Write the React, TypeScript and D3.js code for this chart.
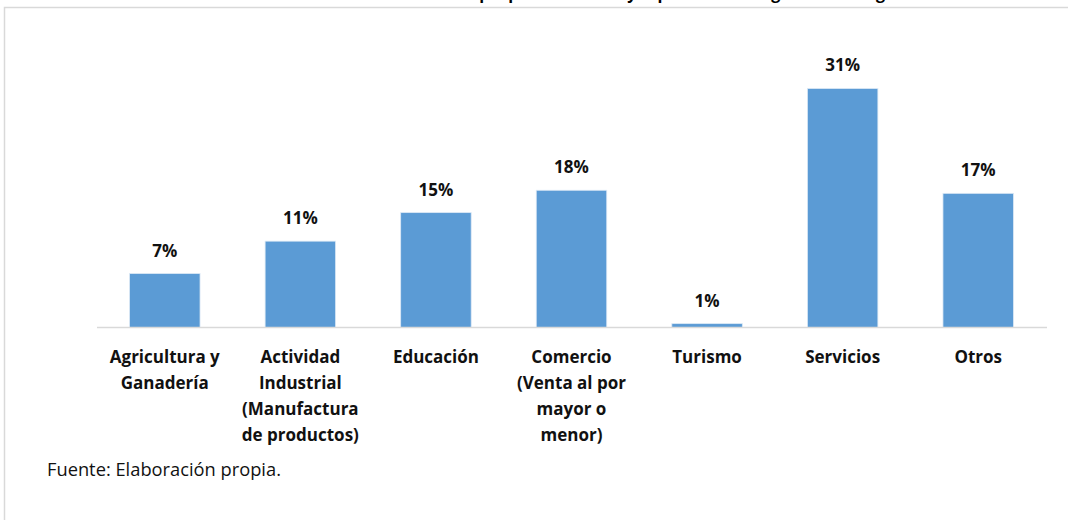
import React, { useEffect, useRef } from 'react';
import * as d3 from 'd3';

const categories = [
  ['Agricultura y', 'Ganadería'],
  ['Actividad', 'Industrial', '(Manufactura', 'de productos)'],
  ['Educación'],
  ['Comercio', '(Venta al por', 'mayor o', 'menor)'],
  ['Turismo'],
  ['Servicios'],
  ['Otros'],
];
const values = [7.0, 11.2, 14.9, 17.8, 0.5, 31.0, 17.4];
const title = 'Gráfico 5. Actividad económica de la que proviene la mayor parte de los ingresos del hogar';
const source = 'Fuente: Elaboración propia.';

const W = 1068;
const H = 520;
const FONT = '"Open Sans", Lato, sans-serif';

const App: React.FC = () => {
  const svgRef = useRef<SVGSVGElement>(null);

  useEffect(() => {
    if (!svgRef.current) return;
    const svg = d3.select(svgRef.current);
    svg.selectAll('*').remove();

    // outer frame (right and bottom edges fall outside the window)
    svg.append('rect')
      .attr('x', 4.5).attr('y', 7.5)
      .attr('width', W + 20).attr('height', H + 20)
      .attr('fill', 'white')
      .attr('stroke', '#d9d9d9')
      .attr('stroke-width', 1.5);

    // title sits above the frame and is clipped by the page edge, as in the source
    svg.append('text')
      .attr('x', 542).attr('y', -1)
      .attr('text-anchor', 'middle')
      .attr('font-family', FONT)
      .attr('font-weight', 700)
      .attr('font-size', 16)
      .text(title);

    const baseY = 327.5;
    const idx = categories.map((_, i) => String(i));
    const x = d3.scaleBand().domain(idx).range([97, 1046]).paddingInner(0.48).paddingOuter(0.24);
    const y = d3.scaleLinear().domain([0, 35]).range([baseY, baseY - 35 * 7.71]);

    const g = svg.append('g');

    g.selectAll('rect.bar')
      .data(values)
      .join('rect')
      .attr('class', 'bar')
      .attr('x', (_, i) => x(String(i)) as number)
      .attr('y', d => y(d))
      .attr('width', x.bandwidth())
      .attr('height', d => baseY - y(d))
      .attr('fill', '#5b9bd5')
      .attr('stroke', '#dce9f5')
      .attr('stroke-width', 0.8);

    g.append('line')
      .attr('x1', 97).attr('x2', 1047)
      .attr('y1', baseY).attr('y2', baseY)
      .attr('stroke', '#d9d9d9')
      .attr('stroke-width', 1.5);

    g.selectAll('text.val')
      .data(values)
      .join('text')
      .attr('class', 'val')
      .attr('x', (_, i) => (x(String(i)) as number) + x.bandwidth() / 2)
      .attr('y', d => y(d) - 17)
      .attr('text-anchor', 'middle')
      .attr('font-family', FONT)
      .attr('font-weight', 700)
      .attr('font-size', 17)
      .attr('fill', '#111')
      .text(d => `${Math.round(d)}%`);

    const labels = g.selectAll('text.cat')
      .data(categories)
      .join('text')
      .attr('class', 'cat')
      .attr('x', (_, i) => (x(String(i)) as number) + x.bandwidth() / 2)
      .attr('y', 363)
      .attr('text-anchor', 'middle')
      .attr('font-family', FONT)
      .attr('font-weight', 700)
      .attr('font-size', 17)
      .attr('fill', '#111');

    labels.each(function (lines, i) {
      const t = d3.select(this);
      const cx = (x(String(i)) as number) + x.bandwidth() / 2;
      lines.forEach((line, j) => {
        t.append('tspan')
          .attr('x', cx)
          .attr('dy', j === 0 ? 0 : 26)
          .text(line);
      });
    });

    svg.append('text')
      .attr('x', 47).attr('y', 476)
      .attr('font-family', FONT)
      .attr('font-size', 18.3)
      .attr('fill', '#111')
      .text(source);
  }, []);

  return (
    <div style={{ position: 'absolute', left: 0, top: 0 }}>
      <svg ref={svgRef} width={W} height={H} style={{ display: 'block' }}></svg>
    </div>
  );
};

export default App;
